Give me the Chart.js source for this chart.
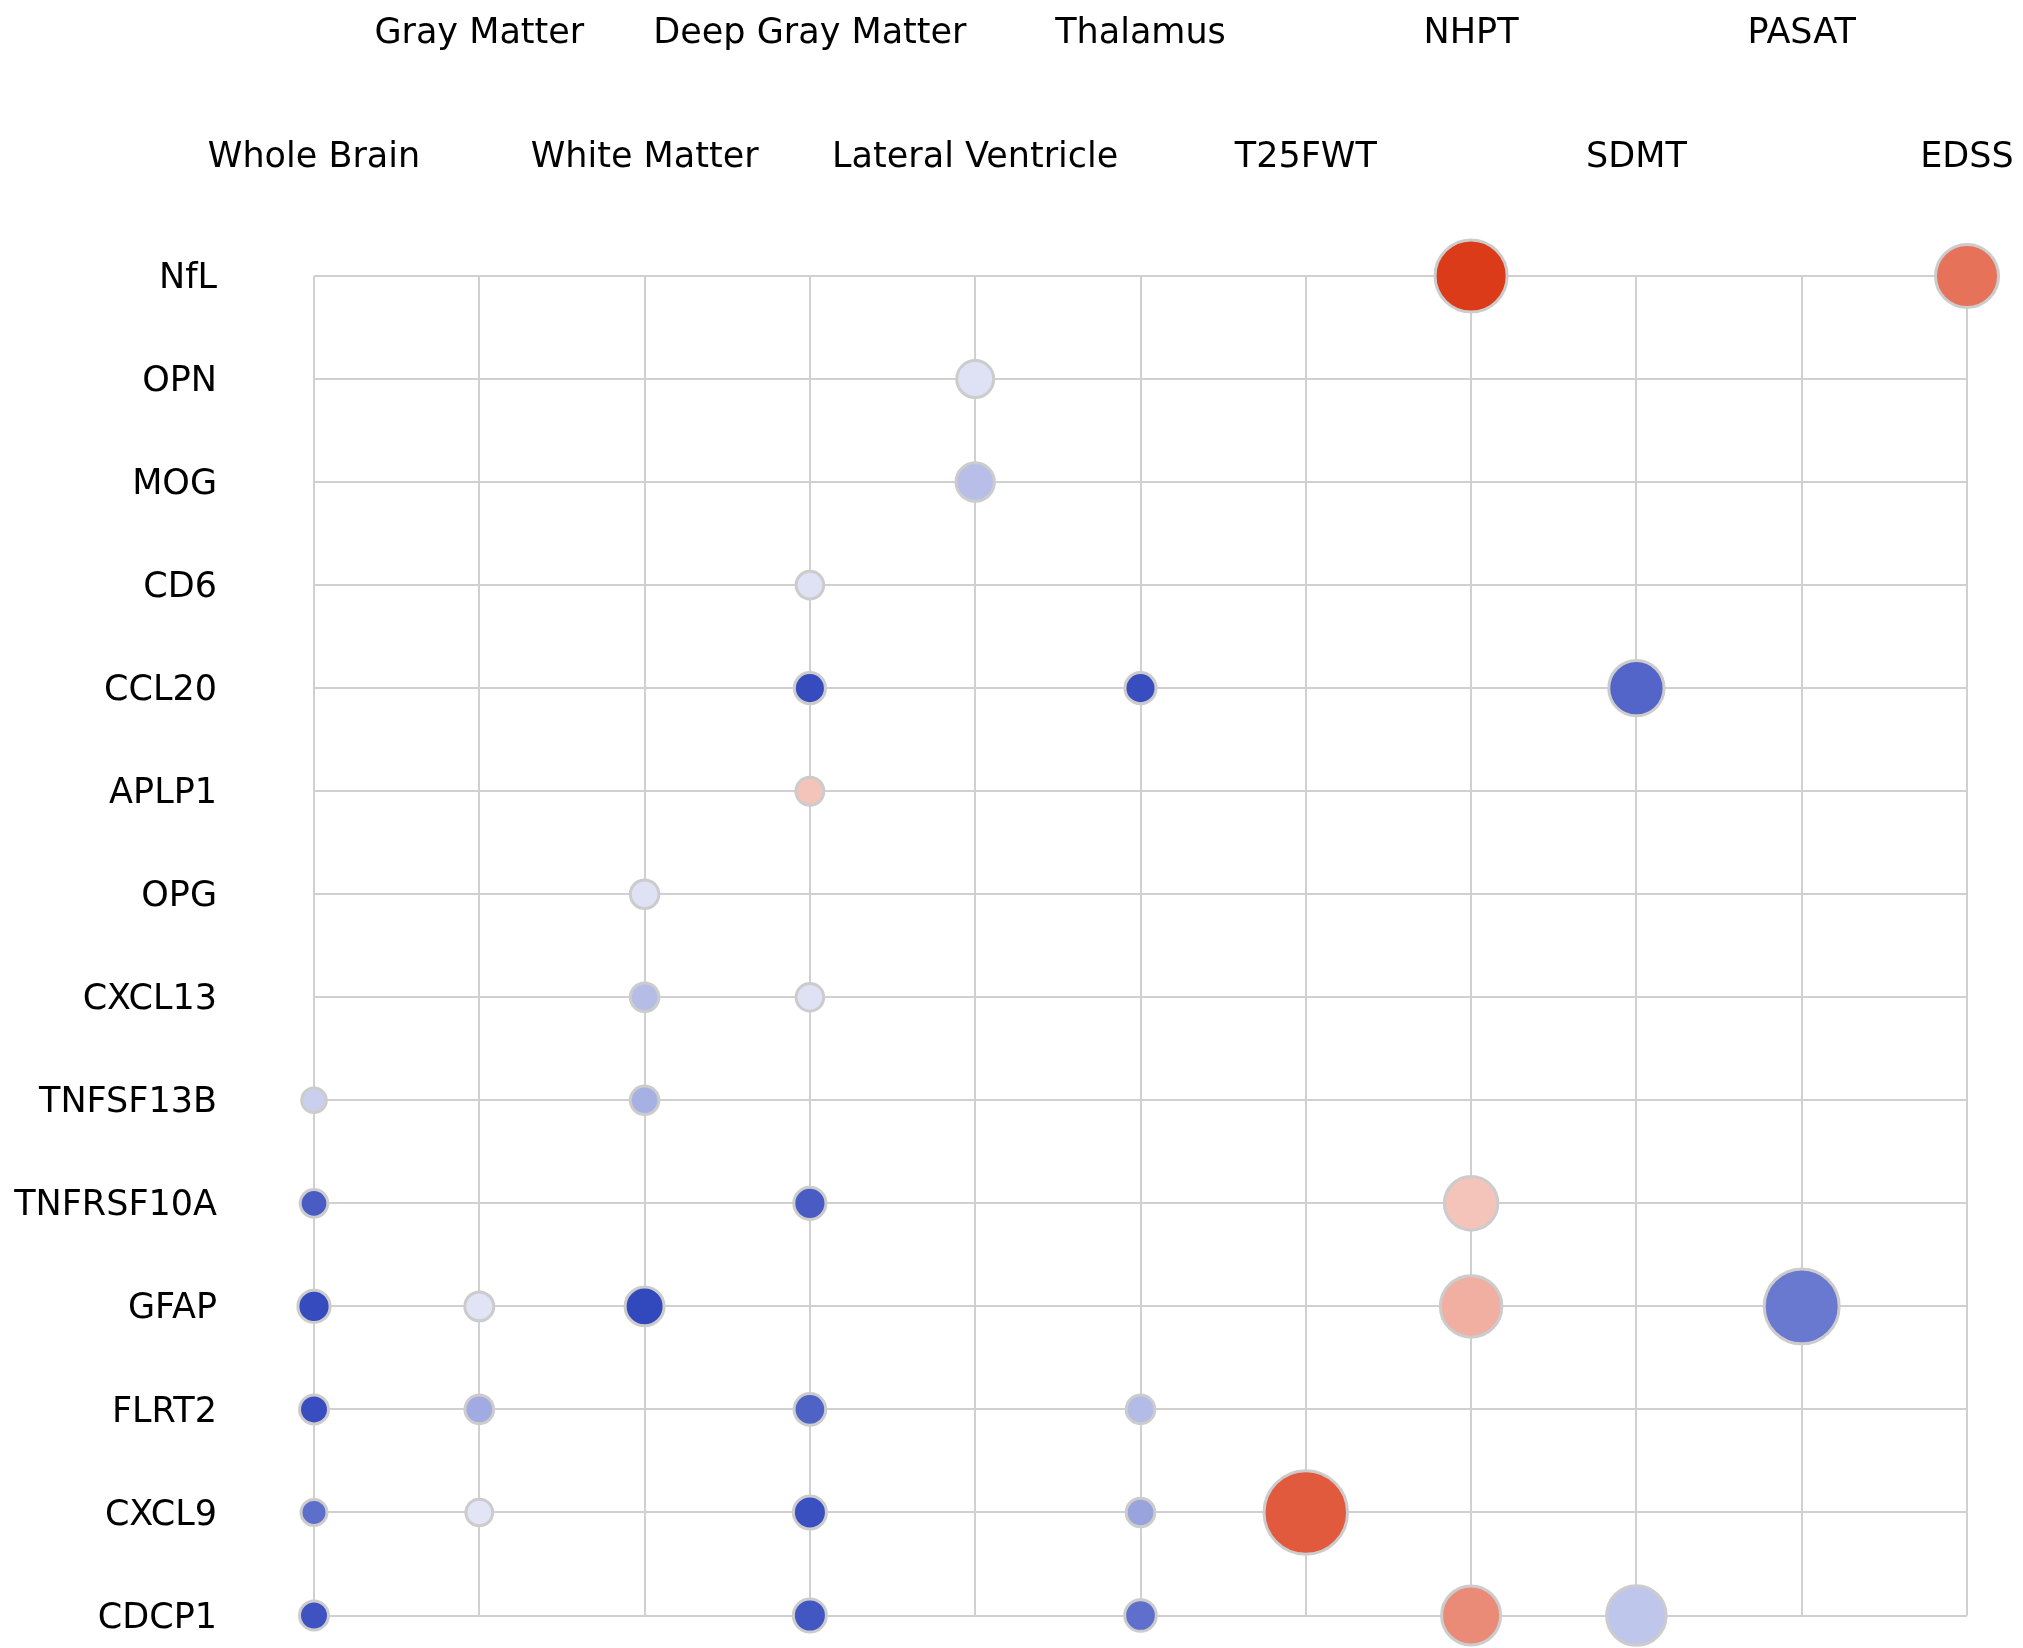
<!DOCTYPE html>
<html>
<head>
<meta charset="utf-8">
<script src="https://cdn.jsdelivr.net/npm/chart.js@4/dist/chart.umd.min.js"></script>
<style>
  html, body { margin: 0; padding: 0; background: #fff; }
  #wrap { width: 2023px; height: 1648px; }
</style>
</head>
<body>
<div id="wrap"><canvas id="chart" width="2023" height="1648"></canvas></div>
<script>
const measures = [
  "Whole Brain", "Gray Matter", "White Matter", "Deep Gray Matter",
  "Lateral Ventricle", "Thalamus", "T25FWT", "NHPT", "SDMT", "PASAT", "EDSS"
];
const proteins = [
  "NfL", "OPN", "MOG", "CD6", "CCL20", "APLP1", "OPG", "CXCL13",
  "TNFSF13B", "TNFRSF10A", "GFAP", "FLRT2", "CXCL9", "CDCP1"
];

// one entry per bubble
const pointProtein = [
  "NfL", "NfL",
  "OPN",
  "MOG",
  "CD6",
  "CCL20", "CCL20", "CCL20",
  "APLP1",
  "OPG",
  "CXCL13", "CXCL13",
  "TNFSF13B", "TNFSF13B",
  "TNFRSF10A", "TNFRSF10A", "TNFRSF10A",
  "GFAP", "GFAP", "GFAP", "GFAP", "GFAP",
  "FLRT2", "FLRT2", "FLRT2", "FLRT2",
  "CXCL9", "CXCL9", "CXCL9", "CXCL9", "CXCL9",
  "CDCP1", "CDCP1", "CDCP1", "CDCP1", "CDCP1"
];
const pointMeasure = [
  "NHPT", "EDSS",
  "Lateral Ventricle",
  "Lateral Ventricle",
  "Deep Gray Matter",
  "Deep Gray Matter", "Thalamus", "SDMT",
  "Deep Gray Matter",
  "White Matter",
  "White Matter", "Deep Gray Matter",
  "Whole Brain", "White Matter",
  "Whole Brain", "Deep Gray Matter", "NHPT",
  "Whole Brain", "Gray Matter", "White Matter", "NHPT", "PASAT",
  "Whole Brain", "Gray Matter", "Deep Gray Matter", "Thalamus",
  "Whole Brain", "Gray Matter", "Deep Gray Matter", "Thalamus", "T25FWT",
  "Whole Brain", "Deep Gray Matter", "Thalamus", "NHPT", "SDMT"
];
// signed association (colour)
const coefValues = [
  1.0, 0.72,
  -0.16,
  -0.35,
  -0.16,
  -0.98, -0.97, -0.84,
  0.30,
  -0.16,
  -0.36, -0.16,
  -0.26, -0.43,
  -0.89, -0.89, 0.30,
  -0.98, -0.15, -1.0, 0.41, -0.73,
  -0.97, -0.46, -0.86, -0.37,
  -0.79, -0.14, -0.96, -0.50, 0.84,
  -0.94, -0.92, -0.78, 0.59, -0.31
];
// magnitude (bubble area)
const weightValues = [
  14.1, 10.9,
  4.0,
  4.3,
  2.35,
  2.9, 2.9, 8.5,
  2.4,
  2.5,
  2.5, 2.35,
  1.9, 2.5,
  2.35, 3.1, 8.0,
  3.1, 2.55, 4.4, 10.4, 15.2,
  2.55, 2.5, 3.0, 2.5,
  2.1, 2.2, 3.25, 2.5, 18.7,
  2.55, 3.25, 3.0, 9.6, 9.8
];

const blueEnd = [50, 72, 189];
const redEnd = [219, 59, 25];
const toColor = (v) => {
  const t = Math.min(1, Math.abs(v));
  const end = v < 0 ? blueEnd : redEnd;
  const c = end.map(e => Math.round(255 + (e - 255) * t));
  return `rgb(${c[0]},${c[1]},${c[2]})`;
};

const borderW = 3;
const points = pointProtein.map((p, i) => ({
  x: measures.indexOf(pointMeasure[i]),
  y: proteins.indexOf(p),
  r: Math.sqrt(weightValues[i]) * 10 - borderW / 2
}));

const tickFont = { family: "'DejaVu Sans', sans-serif", size: 35 };

new Chart(document.getElementById("chart"), {
  type: "bubble",
  data: {
    datasets: [{
      data: points,
      backgroundColor: coefValues.map(toColor),
      borderColor: "#cccccc",
      borderWidth: borderW,
      clip: false
    }]
  },
  options: {
    responsive: false,
    animation: false,
    events: [],
    layout: {
      autoPadding: false, // bubbles hang over the plot edges
      padding: { left: 0, top: 0, right: 56, bottom: 32.5 }
    },
    plugins: { legend: { display: false }, tooltip: { enabled: false } },
    scales: {
      x: {
        type: "linear",
        position: "top",
        min: 0,
        max: measures.length - 1,
        afterFit: (scale) => {
          scale.height = 276;
          // labels may run over the edges, as in the original
          scale.paddingLeft = 0;
          scale.paddingRight = 0;
        },
        border: { display: false },
        grid: { color: "#d0d0d0", lineWidth: 2, drawTicks: false },
        ticks: {
          stepSize: 1,
          autoSkip: false,
          maxRotation: 0,
          minRotation: 0,
          padding: 56,
          color: "#000",
          font: Object.assign({ lineHeight: 124 / 35 }, tickFont),
          callback: (v) => {
            const name = measures[v];
            if (name === undefined) return "";
            return v % 2 === 0 ? ["", name] : [name, ""];
          }
        }
      },
      y: {
        type: "linear",
        position: "left",
        reverse: true,
        min: 0,
        max: proteins.length - 1,
        afterFit: (scale) => {
          scale.width = 314;
          scale.paddingTop = 0;
          scale.paddingBottom = 0;
        },
        border: { display: false },
        grid: { color: "#d0d0d0", lineWidth: 2, drawTicks: false },
        ticks: {
          stepSize: 1,
          autoSkip: false,
          padding: 97,
          labelOffset: 3,
          color: "#000",
          font: tickFont,
          callback: (v) => proteins[v] ?? ""
        }
      }
    }
  }
});
</script>
</body>
</html>
